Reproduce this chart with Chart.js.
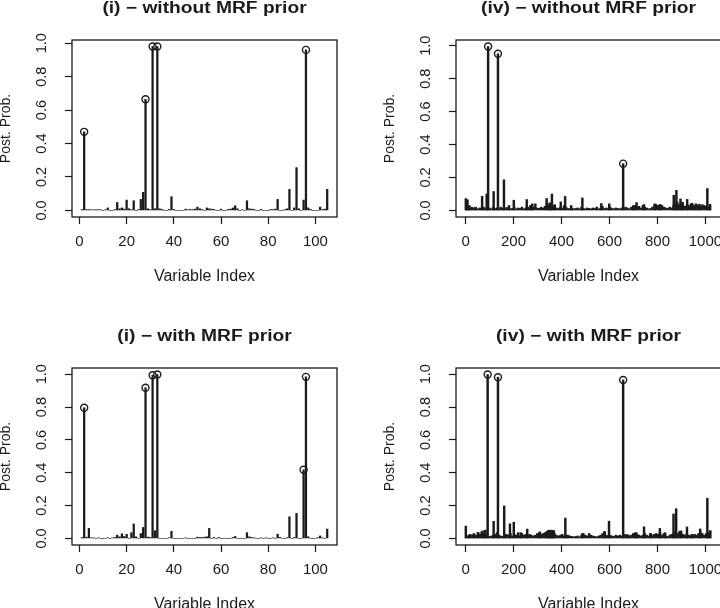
<!DOCTYPE html>
<html>
<head>
<meta charset="utf-8">
<script src="https://cdn.jsdelivr.net/npm/chart.js@4.4.1/dist/chart.umd.min.js"></script>
<style>
  html, body { margin: 0; padding: 0; background: #fff; }
  body { width: 720px; height: 608px; overflow: hidden; position: relative; }
  canvas { position: absolute; }
</style>
</head>
<body>
<canvas id="p1" width="400" height="330" style="left:-18px;top:-10px"></canvas>
<canvas id="p2" width="400" height="330" style="left:366px;top:-10px"></canvas>
<canvas id="p3" width="400" height="330" style="left:-18px;top:318px"></canvas>
<canvas id="p4" width="400" height="330" style="left:366px;top:318px"></canvas>
<script>
/* global Chart */

// ---- data ----
// (i): posterior probs for variables 1..105
const iWithout = [
  0.005, 0.47, 0.005, 0.005, 0.004, 0.004, 0.004, 0.005, 0.004, 0,
  0.004, 0.015, 0, 0, 0.005, 0.048, 0.01, 0.015, 0.008, 0.062,
  0.01, 0.005, 0.058, 0, 0.005, 0.066, 0.108, 0.665, 0.01, 0.005,
  0.98, 0.01, 0.98, 0.01, 0.006, 0, 0, 0.006, 0.082, 0.006,
  0, 0, 0, 0, 0.008, 0.004, 0.006, 0.005, 0.008, 0.02,
  0.01, 0.005, 0, 0.015, 0.01, 0.008, 0.006, 0, 0, 0.008,
  0, 0, 0.006, 0.008, 0.015, 0.028, 0.01, 0, 0.004, 0,
  0.058, 0.01, 0.008, 0.006, 0, 0, 0.006, 0, 0, 0,
  0.006, 0.005, 0.008, 0.066, 0, 0, 0.005, 0.01, 0.126, 0,
  0.015, 0.256, 0.01, 0, 0.062, 0.96, 0.015, 0.006, 0, 0,
  0, 0.02, 0.006, 0.008, 0.126,
];
const iWith = [
  0.005, 0.796, 0.008, 0.061, 0.004, 0.004, 0, 0.004, 0, 0,
  0, 0.004, 0, 0.004, 0.006, 0.02, 0.01, 0.028, 0.012, 0.025,
  0, 0.035, 0.088, 0.01, 0, 0.03, 0.067, 0.918, 0.008, 0.006,
  0.994, 0.047, 0.998, 0, 0, 0, 0, 0.004, 0.043, 0,
  0, 0, 0, 0, 0.004, 0, 0, 0, 0, 0.008,
  0.006, 0.006, 0.008, 0.01, 0.061, 0, 0.006, 0, 0.006, 0,
  0, 0, 0, 0, 0.006, 0.012, 0, 0, 0, 0,
  0.035, 0.01, 0.006, 0.004, 0, 0, 0.004, 0, 0.004, 0,
  0, 0.004, 0, 0.026, 0.006, 0, 0, 0.005, 0.132, 0,
  0.006, 0.153, 0, 0, 0.418, 0.984, 0.01, 0, 0, 0,
  0.005, 0.015, 0.004, 0, 0.057,
];
const iCircledWithout = [2, 28, 31, 33, 96];
const iCircledWith = [2, 28, 31, 33, 95, 96];

// (iv): 1024 variables; low-level background read every 8th index, plus the visible spikes
const ivCount = 1024;
const ivLowStart = 3;
const ivLowStep = 8;
const ivLowWithout = [
  0.03, 0.02, 0.015, 0.02, 0.012, 0.018, 0.01, 0.015,
  0.01, 0.02, 0.012, 0.03, 0.015, 0.01, 0.02, 0.012,
  0.015, 0.01, 0.02, 0.012, 0.01, 0.018, 0.012, 0.01,
  0.012, 0.02, 0.01, 0.015, 0.012, 0.02, 0.01, 0.015,
  0.02, 0.015, 0.03, 0.02, 0.04, 0.015, 0.012, 0.02,
  0.015, 0.025, 0.04, 0.03, 0.045, 0.03, 0.02, 0.015,
  0.012, 0.02, 0.015, 0.03, 0.02, 0.012, 0.01, 0.015,
  0.01, 0.012, 0.015, 0.01, 0.02, 0.012, 0.01, 0.015,
  0.012, 0.01, 0.015, 0.012, 0.02, 0.01, 0.015, 0.025,
  0.012, 0.015, 0.01, 0.02, 0.012, 0.01, 0.015, 0.012,
  0.01, 0.015, 0.012, 0.02, 0.015, 0.01, 0.02, 0.025,
  0.03, 0.02, 0.025, 0.015, 0.03, 0.02, 0.015, 0.01,
  0.012, 0.02, 0.035, 0.035, 0.03, 0.035, 0.03, 0.02,
  0.015, 0.012, 0.02, 0.015, 0.03, 0.04, 0.05, 0.035,
  0.04, 0.03, 0.025, 0.035, 0.03, 0.04, 0.035, 0.03,
  0.035, 0.03, 0.025, 0.035, 0.03, 0.025, 0.02, 0.03,
];
const ivLowWith = [
  0.02, 0.015, 0.025, 0.02, 0.03, 0.02, 0.035, 0.025,
  0.04, 0.03, 0.05, 0.02, 0.012, 0.015, 0.02, 0.025,
  0.035, 0.02, 0.015, 0.012, 0.02, 0.025, 0.02, 0.03,
  0.015, 0.025, 0.02, 0.035, 0.015, 0.03, 0.02, 0.025,
  0.02, 0.025, 0.02, 0.015, 0.02, 0.03, 0.035, 0.025,
  0.03, 0.035, 0.04, 0.045, 0.05, 0.045, 0.03, 0.02,
  0.015, 0.02, 0.025, 0.015, 0.02, 0.02, 0.015, 0.012,
  0.01, 0.012, 0.015, 0.01, 0.02, 0.03, 0.02, 0.015,
  0.03, 0.02, 0.015, 0.012, 0.01, 0.015, 0.02, 0.03,
  0.04, 0.02, 0.015, 0.02, 0.015, 0.012, 0.02, 0.015,
  0.02, 0.015, 0.02, 0.025, 0.02, 0.015, 0.02, 0.03,
  0.035, 0.025, 0.02, 0.015, 0.02, 0.03, 0.02, 0.015,
  0.03, 0.02, 0.025, 0.03, 0.025, 0.035, 0.02, 0.03,
  0.015, 0.012, 0.02, 0.025, 0.03, 0.04, 0.03, 0.04,
  0.045, 0.025, 0.02, 0.03, 0.02, 0.015, 0.02, 0.025,
  0.02, 0.03, 0.04, 0.03, 0.02, 0.03, 0.035, 0.045,
];
// [index, prob]
const ivSpikesWithout = [
  [1, 0.072], [8, 0.065], [16, 0.03], [40, 0.02], [69, 0.086], [88, 0.1],
  [94, 0.995], [117, 0.115], [135, 0.951], [160, 0.186], [181, 0.03], [201, 0.062],
  [255, 0.066], [270, 0.03], [278, 0.04], [338, 0.073], [350, 0.045], [360, 0.1],
  [372, 0.035], [397, 0.052], [415, 0.085], [440, 0.03], [487, 0.076], [566, 0.042],
  [599, 0.04], [657, 0.284], [700, 0.03], [713, 0.048], [744, 0.036], [790, 0.04],
  [811, 0.036], [868, 0.092], [879, 0.122], [896, 0.07], [905, 0.05], [924, 0.067],
  [944, 0.044], [960, 0.04], [975, 0.038], [1008, 0.133], [1019, 0.037],
];
const ivSpikesWith = [
  [1, 0.075], [16, 0.022], [34, 0.026], [53, 0.036], [70, 0.045], [80, 0.05],
  [92, 0.998], [117, 0.104], [135, 0.982], [161, 0.198], [185, 0.089], [201, 0.099],
  [230, 0.035], [257, 0.057], [310, 0.04], [338, 0.042], [345, 0.05], [352, 0.05],
  [360, 0.05], [368, 0.048], [416, 0.124], [487, 0.03], [580, 0.042], [598, 0.105],
  [657, 0.965], [678, 0.022], [712, 0.035], [744, 0.071], [771, 0.03], [810, 0.061],
  [832, 0.035], [867, 0.149], [878, 0.181], [895, 0.045], [923, 0.07], [943, 0.025],
  [978, 0.058], [1008, 0.245], [1020, 0.047],
];
const ivCircledWithout = [94, 135, 657];
const ivCircledWith = [92, 135, 657];

const xTicksI = [0, 20, 40, 60, 80, 100];
const xTicksIV = [0, 200, 400, 600, 800, 1000];
const yTicks = [0, 0.2, 0.4, 0.6, 0.8, 1.0];
const yTickLabels = ['0.0', '0.2', '0.4', '0.6', '0.8', '1.0'];

// ---- drawing ----
const FONT = '"Liberation Sans", Arial, Helvetica, sans-serif';
const INK = '#1a1a1a';

// R-style box round the plot region + bold main title over it
// (the source figure is stretched sideways, so the title is too)
const framePlugin = {
  id: 'frame',
  afterDraw(chart, args, opts) {
    const { ctx, chartArea: a } = chart;
    ctx.save();
    ctx.strokeStyle = INK;
    ctx.lineWidth = 1.3;
    ctx.strokeRect(a.left, a.top, a.right - a.left, a.bottom - a.top);
    ctx.fillStyle = INK;
    ctx.font = `bold ${opts.size}px ${FONT}`;
    ctx.textAlign = 'center';
    ctx.textBaseline = 'middle';
    ctx.translate((a.left + a.right) / 2, a.top - 31.5);
    ctx.scale(opts.stretch, 1);
    ctx.fillText(opts.text, 0, 0);
    ctx.restore();
  },
};

function fromArray(vals) {
  return vals.map((v, i) => ({ x: i + 1, y: v }));
}
function fromSparse(low, spikes) {
  const pts = low.map((v, k) => ({ x: ivLowStart + k * ivLowStep, y: v }));
  spikes.forEach(([x, y]) => pts.push({ x, y }));
  return pts;
}

function drawPanel(id, title, pts, circled, n, xTicks, barW) {
  const top = Math.max(...pts.map((p) => p.y));
  const circles = circled.map((ix) => pts.find((p) => p.x === ix));
  const grid = {
    drawOnChartArea: false, drawTicks: true, tickLength: 7, tickColor: INK, tickWidth: 1.2, offset: false,
  };
  return new Chart(document.getElementById(id), {
    type: 'bar',
    data: {
      datasets: [
        {
          type: 'scatter', data: circles, pointStyle: 'circle', pointRadius: 3.5,
          borderColor: INK, borderWidth: 1.4, backgroundColor: 'rgba(0,0,0,0)', order: 1,
        },
        {
          type: 'bar', data: pts, backgroundColor: INK, borderWidth: 0, barThickness: barW, order: 2,
        },
      ],
    },
    options: {
      responsive: false,
      animation: false,
      devicePixelRatio: 1,
      layout: { padding: { left: 0, top: 50, right: 45, bottom: 23 } },
      plugins: {
        legend: { display: false },
        tooltip: { enabled: false },
        frame: { text: title, size: 16, stretch: 1.2 },
      },
      scales: {
        x: {
          type: 'linear',
          offset: false,
          min: 1 - 0.04 * (n - 1),
          max: n + 0.04 * (n - 1),
          afterBuildTicks: (s) => { s.ticks = xTicks.map((v) => ({ value: v })); },
          afterFit: (s) => { s.height = 80; },
          grid,
          border: { display: false },
          ticks: {
            color: INK, font: { family: FONT, size: 15 }, padding: 8.8, maxRotation: 0, autoSkip: false,
            callback: (v) => String(v),
          },
          title: {
            display: true, text: 'Variable Index', color: INK, font: { family: FONT, size: 16 }, padding: { top: 0, bottom: 10.5 },
          },
        },
        y: {
          min: -0.04 * top,
          max: 1.04 * top,
          afterBuildTicks: (s) => { s.ticks = yTicks.map((v) => ({ value: v })); },
          afterFit: (s) => { s.width = 90; },
          grid,
          border: { display: false },
          ticks: {
            color: INK, font: { family: FONT, size: 14.5 }, padding: 13, minRotation: 90, maxRotation: 90,
            crossAlign: 'center', autoSkip: false,
            callback: (v, i) => yTickLabels[i],
          },
          title: {
            display: true, text: 'Post. Prob.', color: INK, font: { family: FONT, size: 14 }, padding: { top: 16, bottom: 0 },
          },
        },
      },
    },
    plugins: [framePlugin],
  });
}

drawPanel('p1', '(i) \u2212 without MRF prior', fromArray(iWithout), iCircledWithout, iWithout.length, xTicksI, 1.6);
drawPanel('p2', '(iv) \u2212 without MRF prior', fromSparse(ivLowWithout, ivSpikesWithout), ivCircledWithout, ivCount, xTicksIV, 1.8);
drawPanel('p3', '(i) \u2212 with MRF prior', fromArray(iWith), iCircledWith, iWith.length, xTicksI, 1.6);
drawPanel('p4', '(iv) \u2212 with MRF prior', fromSparse(ivLowWith, ivSpikesWith), ivCircledWith, ivCount, xTicksIV, 1.8);
</script>
</body>
</html>
